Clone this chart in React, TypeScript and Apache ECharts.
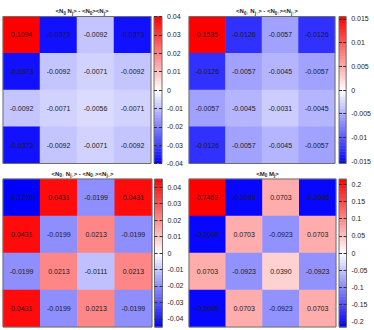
import React, { useEffect, useRef } from "react";
import * as echarts from "echarts";

const cols = ["0", "1", "2", "3"];
const rowsIdx = ["0", "1", "2", "3"];

const valuesTL = [
  [0.1094, -0.0373, -0.0092, -0.0373],
  [-0.0373, -0.0092, -0.0071, -0.0092],
  [-0.0092, -0.0071, -0.0056, -0.0071],
  [-0.0373, -0.0092, -0.0071, -0.0092],
];
const valuesTR = [
  [0.1535, -0.0126, -0.0057, -0.0126],
  [-0.0126, -0.0057, -0.0045, -0.0057],
  [-0.0057, -0.0045, -0.0031, -0.0045],
  [-0.0126, -0.0057, -0.0045, -0.0057],
];
const valuesBL = [
  [-0.127, 0.0431, -0.0199, 0.0431],
  [0.0431, -0.0199, 0.0213, -0.0199],
  [-0.0199, 0.0213, -0.0111, 0.0213],
  [0.0431, -0.0199, 0.0213, -0.0199],
];
const valuesBR = [
  [0.7462, -0.2095, 0.0703, -0.2095],
  [-0.2095, 0.0703, -0.0923, 0.0703],
  [0.0703, -0.0923, 0.039, -0.0923],
  [-0.2095, 0.0703, -0.0923, 0.0703],
];

const rangeTL = 0.04;
const rangeTR = 0.0155;
const rangeBL = 0.045;
const rangeBR = 0.215;

const ticksTL = [-0.04, -0.03, -0.02, -0.01, 0, 0.01, 0.02, 0.03, 0.04];
const ticksTR = [-0.015, -0.01, -0.005, 0, 0.005, 0.01, 0.015];
const ticksBL = [-0.04, -0.03, -0.02, -0.01, 0, 0.01, 0.02, 0.03, 0.04];
const ticksBR = [-0.2, -0.15, -0.1, -0.05, 0, 0.05, 0.1, 0.15, 0.2];

const titleTL = "{a|<N}{s|0}{a| N}{s|j}{a|> - <N}{s|0}{a|><N}{s|j}{a|>}";
const titleTR = "{a|<N}{s|0↑}{a| N}{s|j↑}{a|> - <N}{s|0↑}{a|><N}{s|j↑}{a|>}";
const titleBL = "{a|<N}{s|0↑}{a| N}{s|j↓}{a|> - <N}{s|0↑}{a|><N}{s|j↓}{a|>}";
const titleBR = "{a|<M}{s|0}{a| M}{s|j}{a|>}";

const FONT = "Liberation Sans, Arial, sans-serif";

const panels = [
  { values: valuesTL, range: rangeTL, ticks: ticksTL, title: titleTL,
    grid: { left: 3, top: 16.5, width: 148, height: 147 },
    bar: { left: 154, top: 16.5, width: 8, height: 147 } },
  { values: valuesTR, range: rangeTR, ticks: ticksTR, title: titleTR,
    grid: { left: 189, top: 16.5, width: 146, height: 147 },
    bar: { left: 339, top: 16.5, width: 7.5, height: 147 } },
  { values: valuesBL, range: rangeBL, ticks: ticksBL, title: titleBL,
    grid: { left: 3, top: 179, width: 149, height: 148 },
    bar: { left: 154.5, top: 179, width: 8, height: 148 } },
  { values: valuesBR, range: rangeBR, ticks: ticksBR, title: titleBR,
    grid: { left: 189, top: 179, width: 147, height: 148 },
    bar: { left: 339, top: 179, width: 7.5, height: 148 } },
];

const BANDS = 48;

function buildOption() {
  const grid: any[] = [];
  const xAxis: any[] = [];
  const yAxis: any[] = [];
  const series: any[] = [];
  const visualMap: any[] = [];
  const title: any[] = [];

  panels.forEach((p, i) => {
    const gi = grid.length;
    grid.push({ ...p.grid, show: true, borderColor: "#6e6e6e", borderWidth: 1, z: 10, backgroundColor: "transparent" });
    grid.push({ ...p.bar, show: true, borderColor: "#6e6e6e", borderWidth: 1, z: 10, backgroundColor: "transparent" });

    const xh = xAxis.length;
    xAxis.push({ type: "category", gridIndex: gi, data: cols, show: false });
    xAxis.push({ type: "category", gridIndex: gi + 1, data: [""], show: false, boundaryGap: true });

    const yh = yAxis.length;
    yAxis.push({ type: "category", gridIndex: gi, data: rowsIdx, inverse: true, show: false });
    yAxis.push({
      type: "value", gridIndex: gi + 1, position: "right", min: -p.range, max: p.range,
      axisLine: { show: false }, splitLine: { show: false },
      axisTick: { show: true, inside: true, length: 3, customValues: p.ticks, lineStyle: { color: "#333", width: 1 } },
      axisLabel: { show: true, customValues: p.ticks, margin: 5, fontSize: 7, color: "#222", fontFamily: FONT,
        formatter: (v: number) => String(+v.toPrecision(6)) },
      z: 11,
    });
    yAxis.push({
      type: "value", gridIndex: gi + 1, position: "left", min: -p.range, max: p.range,
      axisLine: { show: false }, splitLine: { show: false },
      axisTick: { show: true, inside: true, length: 3, customValues: p.ticks, lineStyle: { color: "#333", width: 1 } },
      axisLabel: { show: false },
      z: 11,
    });

    const data: any[] = [];
    p.values.forEach((row, r) => row.forEach((v, c) => data.push([c, r, v])));
    const hs = series.length;
    series.push({
      type: "heatmap", xAxisIndex: xh, yAxisIndex: yh, data,
      label: { show: true, fontSize: 7, color: "#1a1a1a", fontFamily: FONT,
        formatter: (pp: any) => pp.value[2].toFixed(4) },
      itemStyle: { borderWidth: 0 },
      emphasis: { disabled: true },
    });

    const bandData: any[] = [];
    for (let k = 0; k < BANDS; k++) {
      const lo = -p.range + (2 * p.range * k) / BANDS;
      const hi = -p.range + (2 * p.range * (k + 1)) / BANDS;
      bandData.push([0, lo, (lo + hi) / 2, hi]);
    }
    series.push({
      type: "custom", xAxisIndex: xh + 1, yAxisIndex: yh + 1, data: bandData,
      encode: { x: 0, y: [1, 2, 3] },
      renderItem: (params: any, api: any) => {
        const top = api.coord([0, api.value(3)]);
        const bot = api.coord([0, api.value(1)]);
        const w = api.size([1, 0])[0];
        return {
          type: "rect",
          shape: { x: top[0] - w / 2, y: top[1], width: w, height: bot[1] - top[1] + 0.5 },
          style: { fill: api.visual("color") },
        };
      },
    });

    visualMap.push({
      type: "continuous", show: false, min: -p.range, max: p.range, dimension: 2,
      seriesIndex: [hs, hs + 1],
      inRange: { color: ["#0000ff", "#ffffff", "#ff0000"] },
    });

    title.push({
      text: p.title,
      left: p.grid.left + p.grid.width / 2,
      top: i < 2 ? 1 : 163.5,
      textAlign: "center",
      textStyle: {
        rich: {
          a: { fontSize: 6, color: "#222", fontFamily: FONT, lineHeight: 10 },
          s: { fontSize: 4.5, color: "#222", fontFamily: FONT, lineHeight: 10, padding: [4, 0, 0, 0] },
        },
      },
    });
  });

  return { animation: false, title, grid, xAxis, yAxis, series, visualMap };
}

export default function App() {
  const ref = useRef<HTMLDivElement>(null);
  useEffect(() => {
    if (!ref.current) return;
    const chart = echarts.init(ref.current, null, { renderer: "svg" });
    chart.setOption(buildOption() as any);
    return () => chart.dispose();
  }, []);
  return (
    <div
      ref={ref}
      style={{ position: "fixed", left: 0, top: 0, width: 374, height: 330, background: "#fff" }}
    />
  );
}
